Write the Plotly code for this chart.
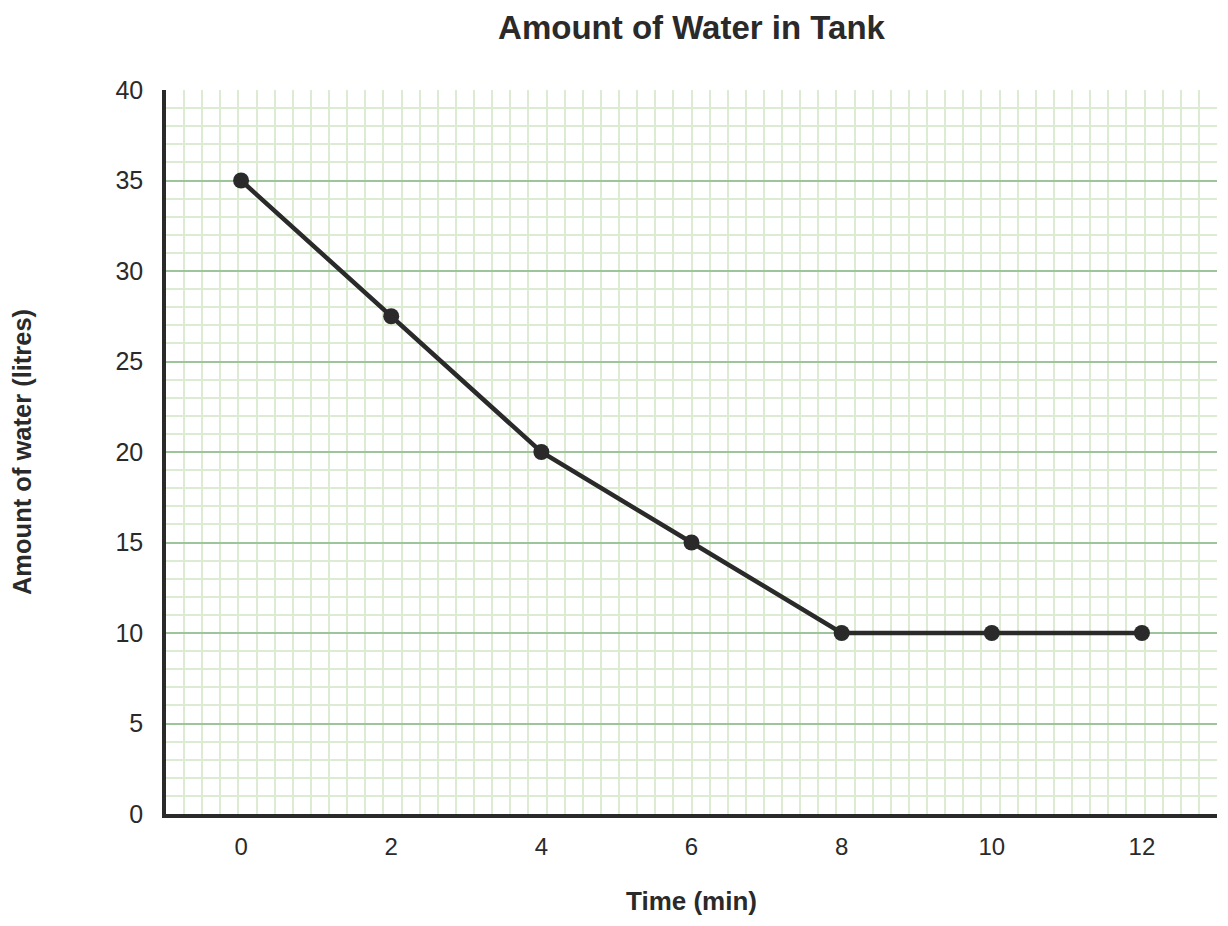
import plotly.graph_objects as go

# Data
time_min = [0, 2, 4, 6, 8, 10, 12]
water_litres = [35, 27.5, 20, 15, 10, 10, 10]
x_tick_vals = [0, 2, 4, 6, 8, 10, 12]
y_tick_vals = [0, 5, 10, 15, 20, 25, 30, 35, 40]

ink = "#2a2a2a"
major_green = "#9dc49b"
minor_green = "#dcecd2"

fig = go.Figure()
fig.add_trace(go.Scatter(
    x=time_min, y=water_litres,
    mode="lines+markers",
    line=dict(color=ink, width=4.5),
    marker=dict(color=ink, size=16),
    showlegend=False,
    cliponaxis=False,
))

W, H = 1220, 918  # page body adds an 8px margin
x_range = [-1, 13]
fig.update_layout(
    width=W, height=H,
    margin=dict(l=158, r=11, t=82, b=112),
    paper_bgcolor="white",
    plot_bgcolor="white",
    font=dict(family="Liberation Sans, Arial, sans-serif", color=ink),
    title=dict(
        text="<b>Amount of Water in Tank</b>",
        font=dict(size=33, color=ink),
        x=0.5, xref="paper", xanchor="center",
        y=1 - 19 / H, yref="container", yanchor="middle",
    ),
    xaxis=dict(
        range=x_range,
        tickvals=x_tick_vals,
        ticks="outside", ticklen=8, tickcolor="rgba(0,0,0,0)",
        tickfont=dict(size=24, color=ink),
        showgrid=False,
        zeroline=False,
        showline=True, linecolor=ink, linewidth=3.5,
        minor=dict(tick0=-1, dtick=14 / 58, showgrid=True,
                   gridcolor=minor_green, gridwidth=2, ticks=""),
        title=dict(text="<b>Time (min)</b>", font=dict(size=26, color=ink), standoff=34),
        fixedrange=True,
    ),
    yaxis=dict(
        range=[0, 40],
        tickvals=y_tick_vals,
        ticks="outside", ticklen=14, tickcolor="rgba(0,0,0,0)",
        tickfont=dict(size=25, color=ink),
        showgrid=True, gridcolor=major_green, gridwidth=2,
        zeroline=False,
        showline=True, linecolor=ink, linewidth=3.5,
        minor=dict(dtick=1, showgrid=True, gridcolor=minor_green, gridwidth=2, ticks=""),
        title=dict(text="<b>Amount of water (litres)</b>", font=dict(size=25.5, color=ink), standoff=80),
        fixedrange=True,
    ),
)

fig.write_html("out.html")
